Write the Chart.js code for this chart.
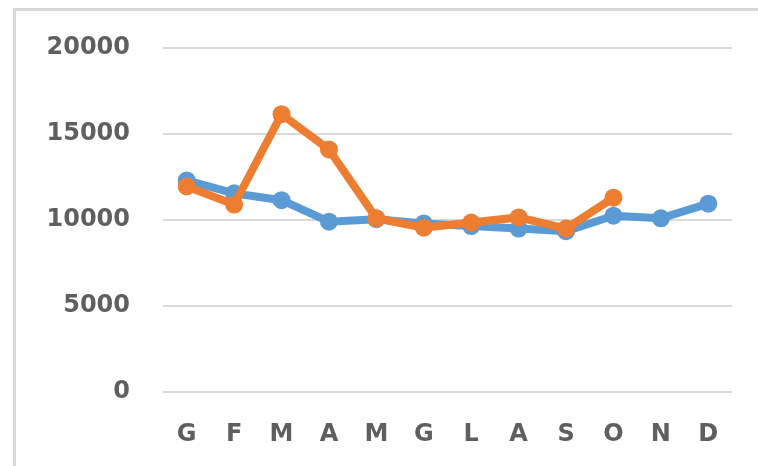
<!DOCTYPE html>
<html lang="it">
<head>
  <meta charset="UTF-8">
  <title>Grafico mensile</title>
  <script src="https://cdn.jsdelivr.net/npm/chart.js"></script>
  <style>
    html, body { margin: 0; padding: 0; background: #fff; overflow: hidden; }
    canvas { display: block; }
  </style>
</head>
<body>
  <canvas id="grafico" width="758" height="466"></canvas>

  <script>
    const mesi = ['G', 'F', 'M', 'A', 'M', 'G', 'L', 'A', 'S', 'O', 'N', 'D'];
    const serieBlu = [12300, 11550, 11150, 9900, 10050, 9800, 9650, 9500, 9350, 10250, 10100, 10950];
    const serieArancio = [11950, 10900, 16150, 14100, 10100, 9550, 9850, 10150, 9500, 11300, null, null];
    const tickY = [0, 5000, 10000, 15000, 20000];

    const font = { family: 'DejaVu Sans', size: 24, weight: 'bold' };

    // bordo dell'area grafico (solo sinistra e sopra sono visibili nel ritaglio)
    const cornice = {
      id: 'cornice',
      beforeDraw(chart) {
        const ctx = chart.ctx;
        ctx.save();
        ctx.strokeStyle = '#d9d9d9';
        ctx.lineWidth = 3;
        ctx.beginPath();
        ctx.moveTo(14.5, chart.height + 5);
        ctx.lineTo(14.5, 9.5);
        ctx.lineTo(chart.width + 5, 9.5);
        ctx.stroke();
        ctx.restore();
      }
    };

    new Chart(document.getElementById('grafico'), {
      type: 'line',
      data: {
        labels: mesi,
        datasets: [{
          data: serieBlu,
          borderColor: '#5b9bd5',
          backgroundColor: '#5b9bd5',
          borderWidth: 8,
          pointRadius: 9,
          pointBorderWidth: 0,
          order: 2
        }, {
          data: serieArancio,
          borderColor: '#ed7d31',
          backgroundColor: '#ed7d31',
          borderWidth: 8,
          pointRadius: 9,
          pointBorderWidth: 0,
          order: 1
        }]
      },
      options: {
        responsive: false,
        animation: false,
        layout: { padding: { left: 0, right: 26, top: 48, bottom: 0 } },
        plugins: { legend: { display: false }, tooltip: { enabled: false } },
        scales: {
          x: {
            offset: true,
            grid: { display: false, drawTicks: false },
            border: { display: false },
            ticks: { color: '#5f5f5f', font: font, padding: 28, maxRotation: 0 },
            afterFit: s => { s.height = 74; }
          },
          y: {
            min: 0,
            max: 20000,
            afterBuildTicks: s => { s.ticks = tickY.map(v => ({ value: v })); },
            grid: { color: '#d9d9d9', lineWidth: 2, drawTicks: false },
            border: { display: false },
            ticks: { color: '#5f5f5f', font: font, padding: 33, callback: v => String(v) },
            afterFit: s => { s.width = 163; }
          }
        }
      },
      plugins: [cornice]
    });
  </script>
</body>
</html>
